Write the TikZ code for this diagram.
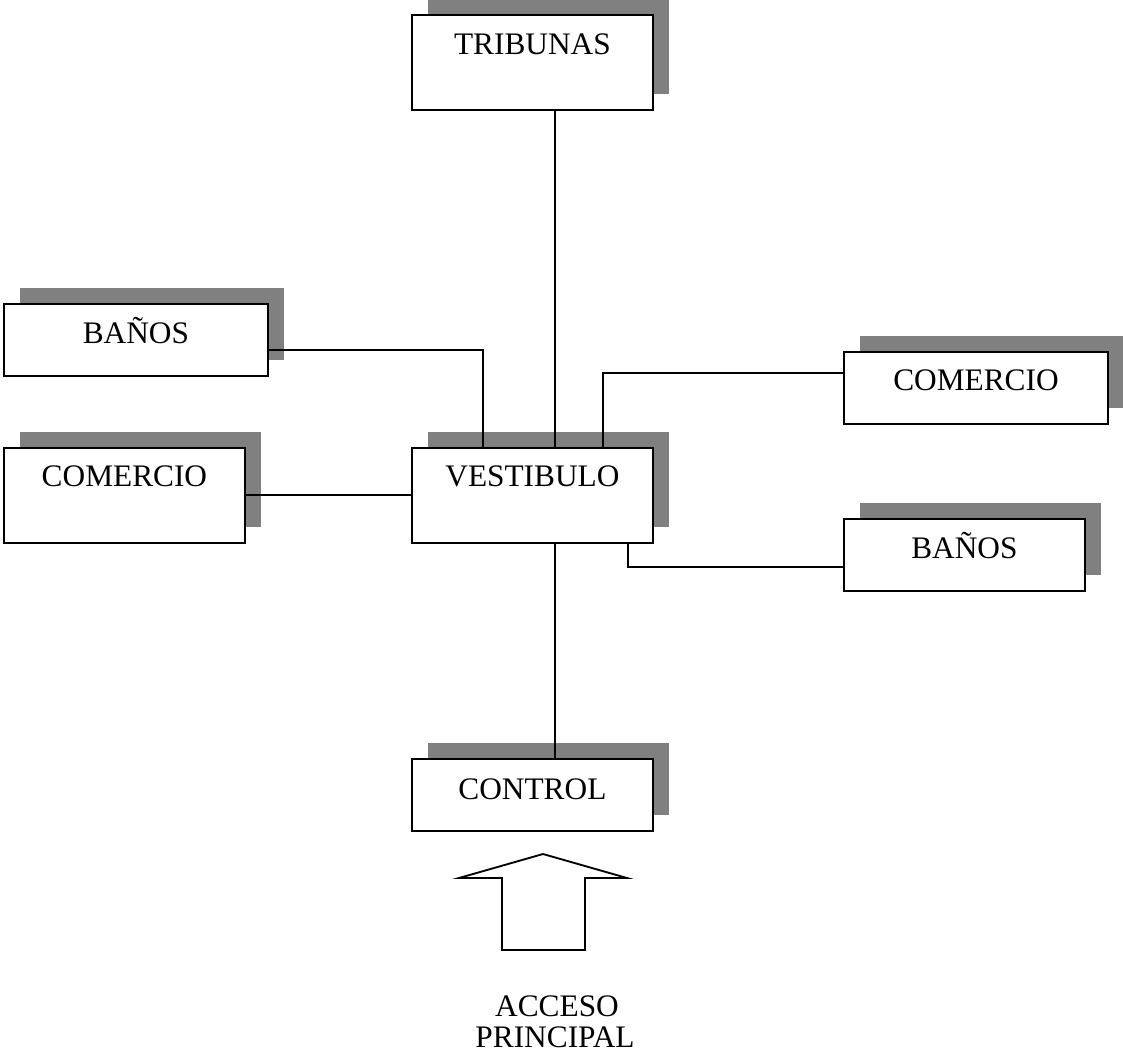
\documentclass[tikz,border=0pt]{standalone}
\usepackage{fontspec}
\setmainfont{Liberation Serif}
\usetikzlibrary{shadows}
\definecolor{shadowgray}{RGB}{128,128,128}
\begin{document}
\begin{tikzpicture}[x=0.75pt,y=-0.75pt,
  box/.style={draw=black, line width=1.4pt, fill=white, inner sep=0pt,
    anchor=north west,
    drop shadow={shadow xshift=12pt, shadow yshift=12pt, fill=shadowgray, opacity=1}},
  wide/.style={minimum width=180.75pt},
  wider/.style={minimum width=198pt},
  tall/.style={minimum height=71.25pt},
  short/.style={minimum height=54pt},
  lbl/.style={anchor=base, inner sep=0pt, font=\fontsize{23.5}{28}\selectfont},
  link/.style={line width=1.3pt}]
\useasboundingbox (0,0) rectangle (1123,1054);

% rooms
\node[box, wide, tall]  (trib) at (411,14)  {};
\node[box, wider, short] (banL) at (3,303)  {};
\node[box, wide, tall]  (comL) at (3,447)   {};
\node[box, wide, tall]  (vest) at (411,447) {};
\node[box, wider, short] (comR) at (843,351) {};
\node[box, wide, short] (banR) at (843,518) {};
\node[box, wide, short] (ctrl) at (411,758) {};

% room names, set near the top of each box
\node[lbl] (tribT) at ([yshift=-30pt]trib.north) {TRIBUNAS};
\node[lbl] (banLT) at ([yshift=-30pt]banL.north) {BAÑOS};
\node[lbl] (comLT) at ([yshift=-29.5pt]comL.north) {COMERCIO};
\node[lbl] (vestT) at ([yshift=-29.5pt]vest.north) {VESTIBULO};
\node[lbl] (comRT) at ([yshift=-29.5pt]comR.north) {COMERCIO};
\node[lbl] (banRT) at ([yshift=-30pt]banR.north) {BAÑOS};
\node[lbl] (ctrlT) at ([yshift=-31pt]ctrl.north) {CONTROL};

% routing points for the connectors
\coordinate (axis) at (555,0);
\coordinate (jbl) at (483,350);
\coordinate (jcr) at (603,373);
\coordinate (jcl) at (0,495);
\coordinate (jbr) at (628,567);

% connectors
\draw[link] (trib.south -| axis) -- (vest.north -| axis);
\draw[link] (banL.east |- jbl) -| (vest.north -| jbl);
\draw[link] (comR.west |- jcr) -| (vest.north -| jcr);
\draw[link] (comL.east |- jcl) -- (vest.west |- jcl);
\draw[link] (vest.south -| jbr) |- (banR.west |- jbr);
\draw[link] (vest.south -| axis) -- (ctrl.north -| axis);

% entrance arrow
\coordinate (tip) at (543,854);
\draw[line width=1.4pt, line join=miter]
  (tip) -- ++(84,24) -- ++(-42,0) -- ++(0,72) -- ++(-83,0) -- ++(0,-72)
  -- ++(-43,0) -- cycle;
\node[lbl] (acc1) at (557,1016) {ACCESO};
\node[lbl] (acc2) at (555,1047) {PRINCIPAL};
\end{tikzpicture}
\end{document}
